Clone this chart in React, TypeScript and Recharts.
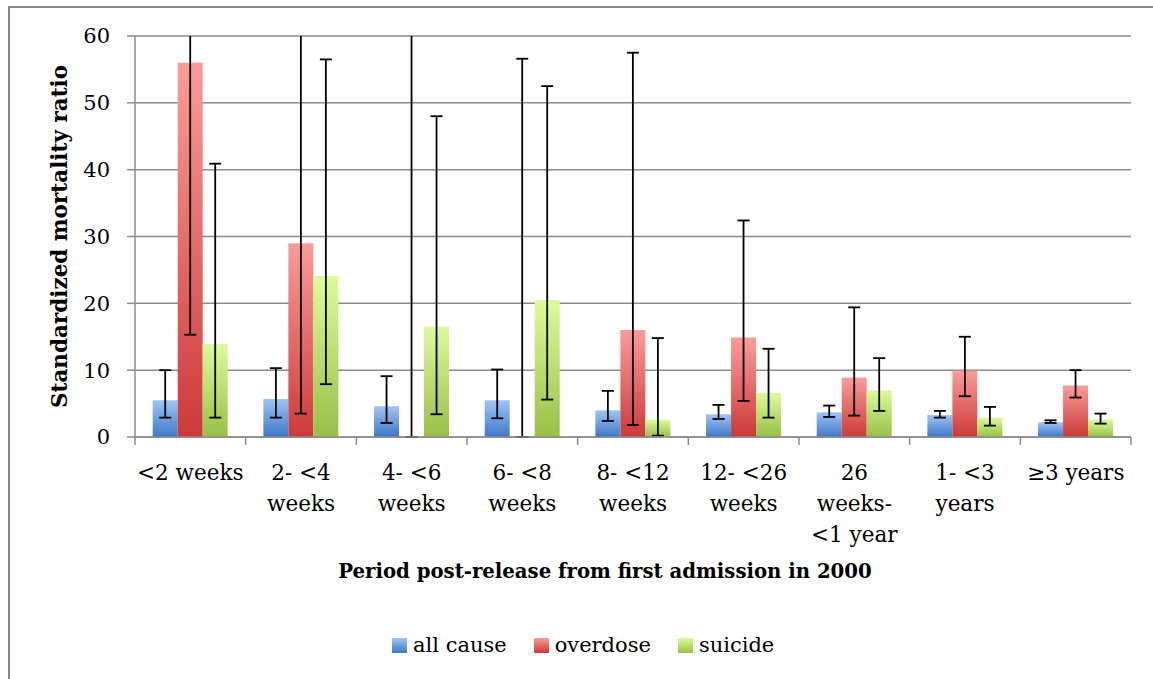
import React from 'react';
import { BarChart, Bar, XAxis, YAxis, CartesianGrid, ErrorBar, Legend } from 'recharts';

const categories = ['<2 weeks', '2- <4\nweeks', '4- <6\nweeks', '6- <8\nweeks', '8- <12\nweeks', '12- <26\nweeks', '26\nweeks-\n<1 year', '1- <3\nyears', '\u22653 years'];
const allCause = [5.5, 5.7, 4.6, 5.5, 4.0, 3.4, 3.7, 3.3, 2.2];
const allCauseLow = [2.9, 2.9, 2.1, 2.8, 2.4, 2.7, 3.0, 2.9, 2.1];
const allCauseHigh = [10.0, 10.3, 9.1, 10.1, 6.9, 4.8, 4.7, 3.9, 2.5];
const overdose = [56.0, 29.0, 0.01, 0.01, 16.0, 14.9, 8.9, 9.9, 7.7];
const overdoseLow = [15.3, 3.5, 0, 0, 1.8, 5.4, 3.2, 6.1, 5.9];
const overdoseHigh = [120, 95, 150, 56.6, 57.5, 32.4, 19.4, 15.0, 10.0];
const suicide = [13.9, 24.1, 16.5, 20.5, 2.6, 6.6, 7.0, 2.9, 2.6];
const suicideLow = [2.9, 7.9, 3.4, 5.6, 0.2, 2.9, 3.9, 1.7, 2.0];
const suicideHigh = [40.9, 56.5, 48.0, 52.5, 14.8, 13.2, 11.8, 4.5, 3.5];
const yTicks = [0, 10, 20, 30, 40, 50, 60];
const seriesNames = ['all cause', 'overdose', 'suicide'];

const data = categories.map((name, i) => ({
  name,
  allCause: allCause[i],
  allCauseErr: [allCause[i] - allCauseLow[i], allCauseHigh[i] - allCause[i]],
  overdose: overdose[i],
  overdoseErr: [overdose[i] - overdoseLow[i], overdoseHigh[i] - overdose[i]],
  suicide: suicide[i],
  suicideErr: [suicide[i] - suicideLow[i], suicideHigh[i] - suicide[i]],
}));

const FONT = '"DejaVu Serif", serif';
const GRID = '#8c8c8c';

const gradients = [
  { id: 'gBlue', top: '#9fc5f8', bottom: '#3d78c6' },
  { id: 'gRed', top: '#fb9c99', bottom: '#cc3a38' },
  { id: 'gGreen', top: '#ddfb9c', bottom: '#98c046' },
];

const XTick = (props: any) => {
  const { x, y, payload } = props;
  const half = payload && payload.offset ? payload.offset : 55.3;
  const lines = String(payload.value).split('\n');
  const isLast = payload.index === categories.length - 1;
  return (
    <g>
      <line x1={x - half} x2={x - half} y1={y} y2={y + 8} stroke={GRID} strokeWidth={1.5} />
      {isLast && <line x1={x + half} x2={x + half} y1={y} y2={y + 8} stroke={GRID} strokeWidth={1.5} />}
      <text x={x} y={y} textAnchor="middle" fontFamily={FONT} fontSize={21.5} fill="#000">
        {lines.map((l, i) => (
          <tspan key={i} x={x} y={y + 43 + i * 31}>{l}</tspan>
        ))}
      </text>
    </g>
  );
};

const LegendContent = () => (
  <div style={{ display: 'flex', alignItems: 'center', fontFamily: FONT, fontSize: 21, color: '#000', whiteSpace: 'nowrap' }}>
    {seriesNames.map((n, i) => (
      <div key={n} style={{ display: 'flex', alignItems: 'center', marginRight: 27 }}>
        <div style={{ width: 15, height: 15, background: `linear-gradient(${gradients[i].top}, ${gradients[i].bottom})`, marginRight: 6 }} />
        <span>{n}</span>
      </div>
    ))}
  </div>
);

export default function App() {
  return (
    <div style={{ position: 'absolute', left: 0, top: 0, width: 1153, height: 679, overflow: 'hidden', background: '#fff' }}>
      <style>{`.recharts-errorBar { clip-path: url(#plotAreaClip); }`}</style>
      <div style={{ position: 'absolute', left: 0, top: 0 }}>
        <BarChart width={1153} height={679} data={data} margin={{ top: 36, right: 22, left: 0, bottom: 0 }} barCategoryGap="16%" barGap={0}>
          <defs>
            {gradients.map((g) => (
              <linearGradient key={g.id} id={g.id} x1="0" y1="0" x2="0" y2="1">
                <stop offset="0%" stopColor={g.top} />
                <stop offset="100%" stopColor={g.bottom} />
              </linearGradient>
            ))}
            <clipPath id="plotAreaClip" clipPathUnits="userSpaceOnUse">
              <rect x={135} y={36} width={996} height={402} />
            </clipPath>
          </defs>
          <CartesianGrid vertical={false} stroke={GRID} strokeWidth={1.5} />
          <XAxis
            dataKey="name"
            height={242}
            interval={0}
            tickLine={false}
            tickSize={0}
            tickMargin={0}
            axisLine={{ stroke: GRID, strokeWidth: 1.5 }}
            tick={<XTick />}
            label={{ value: 'Period post-release from first admission in 2000', position: 'insideTop', offset: 127, dx: -28, style: { fontFamily: FONT, fontSize: 19.7, fontWeight: 'bold', fill: '#000' } }}
          />
          <YAxis
            width={135}
            domain={[0, 60]}
            ticks={yTicks}
            allowDataOverflow
            tickSize={8}
            tickMargin={17}
            tickLine={{ stroke: GRID, strokeWidth: 1.5 }}
            axisLine={{ stroke: GRID, strokeWidth: 1.5 }}
            tick={{ fontFamily: FONT, fontSize: 21, fill: '#000' }}
            label={{ value: 'Standardized mortality ratio', angle: -90, position: 'center', dx: -8, style: { fontFamily: FONT, fontSize: 21.5, fontWeight: 'bold', fill: '#000' } }}
          />
          <Legend layout="horizontal" verticalAlign="middle" align="center" wrapperStyle={{ position: 'absolute', top: 633, left: 392, width: 'auto' }} content={<LegendContent />} />
          <Bar dataKey="allCause" name="all cause" fill="url(#gBlue)" isAnimationActive={false}>
            <ErrorBar dataKey="allCauseErr" width={6} stroke="#000" strokeWidth={1.8} direction="y" />
          </Bar>
          <Bar dataKey="overdose" name="overdose" fill="url(#gRed)" isAnimationActive={false}>
            <ErrorBar dataKey="overdoseErr" width={6} stroke="#000" strokeWidth={1.8} direction="y" />
          </Bar>
          <Bar dataKey="suicide" name="suicide" fill="url(#gGreen)" isAnimationActive={false}>
            <ErrorBar dataKey="suicideErr" width={6} stroke="#000" strokeWidth={1.8} direction="y" />
          </Bar>
        </BarChart>
      </div>
      <div style={{ position: 'absolute', left: 8, top: 6, width: 2, height: 700, background: '#888', pointerEvents: 'none' }} />
      <div style={{ position: 'absolute', left: 8, top: 6, width: 1200, height: 2, background: '#888', pointerEvents: 'none' }} />
    </div>
  );
}
